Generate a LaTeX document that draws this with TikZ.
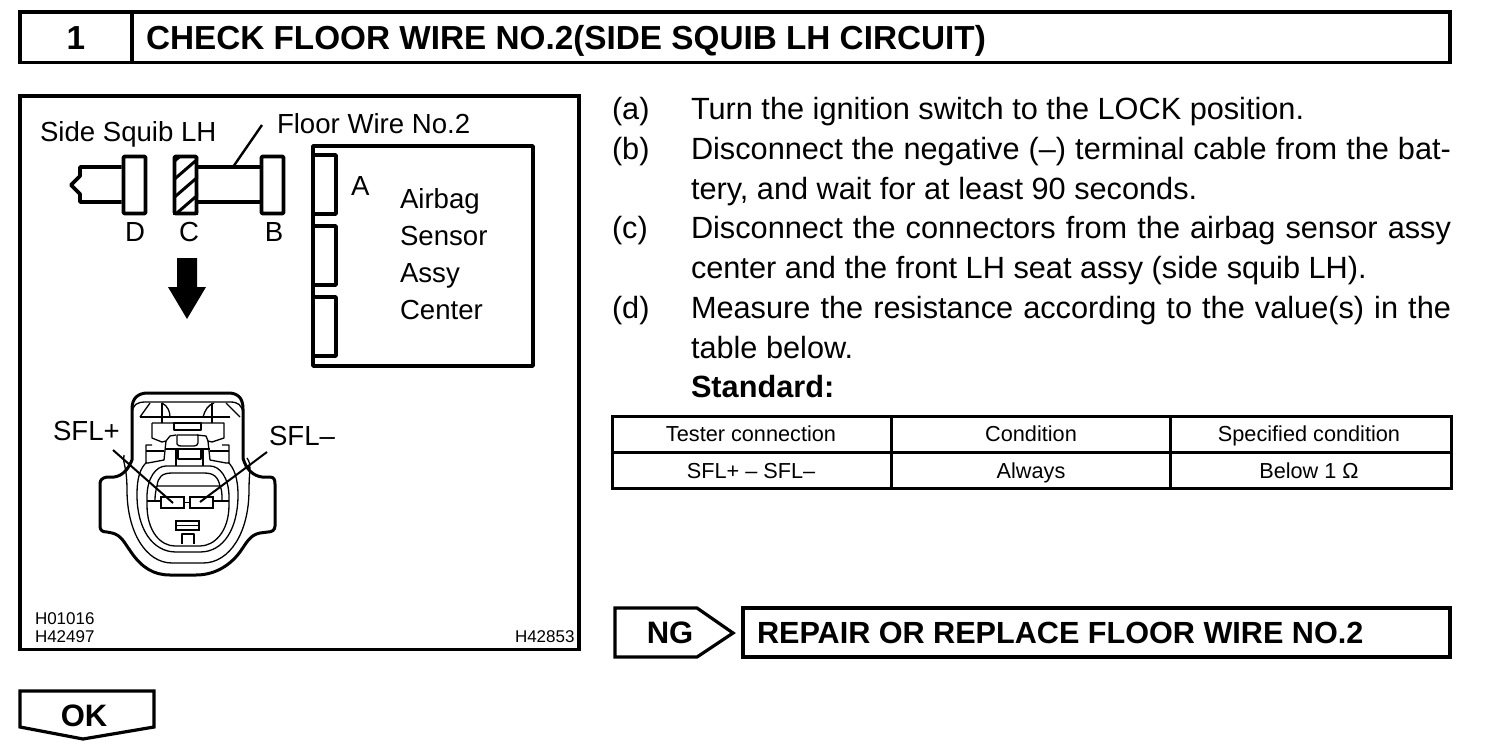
\documentclass[tikz,border=0pt]{standalone}
\usepackage{fontspec}
\setmainfont{Liberation Sans}
\newcommand{\fsz}[1]{\fontsize{#1}{#1}\selectfont}
\tikzset{
  txt/.style={anchor=base west,inner sep=0pt,outer sep=0pt},
  bodytxt/.style={txt,font=\fsz{30.7}},
  fig/.style={txt,font=\fsz{27.6}},
  figc/.style={anchor=base,inner sep=0pt,outer sep=0pt,font=\fsz{27.6}},
  tab/.style={anchor=base,inner sep=0pt,outer sep=0pt,font=\fsz{21.7}},
  code/.style={txt,font=\fsz{17}},
  head/.style={txt,font=\fsz{30.6}\bfseries},
  title/.style={txt,font=\fsz{33.3}\bfseries},
  headc/.style={anchor=base,inner sep=0pt,outer sep=0pt,font=\fsz{31}\bfseries},
  frame/.style={draw=black,line width=3.2pt,miter limit=10},
  thick line/.style={draw=black,line width=3.8pt,line join=round},
  lead/.style={draw=black,line width=2.4pt},
  thin line/.style={draw=black,line width=1.3pt,line join=round},
  term/.style={draw=black,line width=1.7pt},
  plug/.style={thick line,rounded corners=1pt,rectangle,inner sep=0pt,minimum width=22pt,minimum height=57pt},
}
\begin{document}
\begin{tikzpicture}[x=1pt,y=-1pt]
\useasboundingbox (0,0) rectangle (1504,752);
% header
\draw[frame] (20,12) rectangle (1450,62.5);
\draw[frame] (132,12) -- (132,62.5);
\node[headc,font=\fsz{33.3}\bfseries] (hnum) at (76,49) {1};
\node[title] (htitle) at (146,49) {CHECK FLOOR WIRE NO.2(SIDE SQUIB LH CIRCUIT)};
% left panel
\draw[frame] (20,96) rectangle (579,649.5);
\node[fig] (lsq) at (40,141) {Side Squib LH};
\node[fig] (lfw) at (277,133) {Floor Wire No.2};
% plugs
\node[plug] (boxD) at (134.5,185) {};
\node[plug] (boxC) at (185.5,185) {};
\node[plug] (boxB) at (272.5,185) {};
\begin{scope}
\clip (173,156) rectangle (198,214);
\foreach \yy in {165,183,201,219,237}
  \draw[black,line width=3pt] (170,\yy) -- (200,\yy-26);
\end{scope}
\coordinate (wtop) at (233,167);
\coordinate (wleadend) at (262,125);
\draw[thick line] ([yshift=18pt]boxC.east) -- ([yshift=18pt]boxB.west);
\draw[thick line] ([yshift=-17pt]boxC.east) -- ([yshift=-17pt]boxB.west);
\coordinate (tip) at (71,185);
\draw[thick line] ([yshift=18pt]boxD.west) -- (80,167) -- (80,176) -- (tip) -- (80,194) -- (80,202) -- ([yshift=-17pt]boxD.west);
\draw[lead] (wtop) -- (wleadend);
\node[figc] (lD) at (135,241) {D};
\node[figc] (lC) at (189,241) {C};
\node[figc] (lB) at (274,241) {B};
% down arrow
\fill[black] (177,258) -- (197,258) -- (197,287) -- (206,287) -- (187,319) -- (168,287) -- (177,287) -- cycle;
% ECU
\draw[thick line] (313,146) -- (533,146) -- (533,366) -- (313,366) -- cycle;
\draw[thick line] (313,155) -- (336,155) -- (336,214) -- (313,214);
\draw[thick line] (313,226) -- (336,226) -- (336,285) -- (313,285);
\draw[thick line] (313,297) -- (336,297) -- (336,356) -- (313,356);
\node[fig] (lA) at (351,195) {A};
\node[fig] (l1) at (400,208) {Airbag};
\node[fig] (l2) at (400,245) {Sensor};
\node[fig] (l3) at (400,282) {Assy};
\node[fig] (l4) at (400,319) {Center};
% connector outer
\draw[thick line,line width=3pt] (132,460) -- (132,409) .. controls (132,398) and (138,393) .. (148,393)
  -- (228,393) .. controls (238,393) and (243,398) .. (243,409) -- (243,458)
  .. controls (246,470) and (254,476) .. (262,477) -- (270,477) .. controls (274,477) and (275,480) .. (275,484)
  -- (275,526) .. controls (275,530) and (272,532) .. (268,532) -- (260,533)
  .. controls (250,535) and (247,542) .. (240,552) .. controls (228,568) and (212,575) .. (196,575)
  -- (170,575) .. controls (154,575) and (142,568) .. (131,552) .. controls (124,542) and (121,535) .. (112,533)
  -- (107,532) .. controls (102,532) and (100,530) .. (100,526) -- (100,484) .. controls (100,480) and (102,478) .. (107,477)
  -- (114,477) .. controls (122,476) and (128,470) .. (132,460);
% inner top contour
\draw[thin line] (132,413) .. controls (133,405) and (136,402) .. (146,402) -- (230,402) .. controls (238,402) and (242,405) .. (243,413);
\draw[thin line] (140,417) -- (150,403);
\draw[thin line] (240,417) -- (226,403);
\draw[thin line] (162,403) .. controls (168,406) and (170,412) .. (170,417);
\draw[thin line] (203,417) .. controls (205,410) and (208,405) .. (214,403);
\draw[thin line] (140,417) -- (230,417);
\draw[thin line] (162,403) -- (162,423);
\draw[thin line] (212,403) -- (212,423);
% body
\draw[thin line] (152,423) -- (224,423) -- (224,438) -- (212,442) -- (208,441) -- (206,436) -- (197,435);
\draw[thin line] (152,423) -- (152,438) -- (162,442) -- (166,441) -- (170,436) -- (176,435);
\draw[thin line] (174,423) rectangle (201,430);
% centre latch
\draw[thin line] (177,435) -- (177,444) .. controls (177,446) and (180,446) .. (182,446) -- (194,446) .. controls (196,446) and (198,445) .. (198,443) -- (198,435) -- cycle;
\draw[thin line] (165,449) -- (210,449);
\draw[thin line] (176,449) -- (176,466);
\draw[thin line] (203,449) -- (203,466);
\draw[thin line] (178,449) -- (178,459) -- (201,459) -- (201,449);
% side wings
\draw[thin line] (166,441) -- (164,460) -- (148,463) -- (146,463) -- (146,445) -- (152,445);
\draw[thin line] (146,451) -- (164,451);
\draw[thin line] (208,441) -- (210,460) -- (226,463) -- (229,463) -- (229,445) -- (222,445);
\draw[thin line] (210,451) -- (229,451);
% rings
\draw[thin line] (124,455) .. controls (122,462) and (127,465) .. (127,490) .. controls (127,532) and (146,563) .. (172,563) -- (203,563) .. controls (230,563) and (249,532) .. (249,490) .. controls (249,470) and (252,465) .. (247,458);
\draw[thin line] (147,462) .. controls (140,468) and (137,478) .. (137,495) .. controls (137,528) and (152,552) .. (176,552) -- (200,552) .. controls (224,552) and (238,528) .. (238,495) .. controls (238,478) and (234,468) .. (228,462);
% inner cavity
\draw[thin line] (166,466) -- (210,466) .. controls (220,466) and (229,478) .. (229,497) -- (229,505) .. controls (229,532) and (214,546) .. (200,546) -- (175,546) .. controls (161,546) and (147,532) .. (147,505) -- (147,497) .. controls (147,478) and (156,466) .. (166,466);
\draw[thin line] (157,486) .. controls (158,477) and (162,473) .. (172,473) -- (204,473) .. controls (214,473) and (218,477) .. (220,486) -- cycle;
\draw[thin line] (147,501) -- (161,501);
\draw[thin line] (155,500) .. controls (155,494) and (156,490) .. (157,486);
\draw[thin line] (220,486) .. controls (222,490) and (222,494) .. (222,500);
\draw[thin line] (213,501) -- (229,501);
% terminals
\node[term,rectangle,minimum width=23pt,minimum height=11pt,inner sep=0pt] (tplus) at (172.5,502.5) {};
\node[term,rectangle,minimum width=23pt,minimum height=11pt,inner sep=0pt] (tminus) at (201.5,502.5) {};
\draw[thin line] (tplus.east) -- (tminus.west);
\draw[term] (176,521) rectangle (199,530);
\draw[thin line] (176,525.5) -- (199,525.5);
\draw[thin line] (182,544) -- (182,534) -- (194,534) -- (194,544);
\node[fig] (lplus) at (53,440) {SFL+};
\node[fig] (lminus) at (269,445) {SFL–};
\coordinate (pl) at (113,450);
\coordinate (mi) at (267,452);
\coordinate (pe) at (173,503);
\coordinate (me) at (200,502);
\draw[lead,line width=2pt] (pl) -- (pe);
\draw[lead,line width=2pt] (mi) -- (me);
\node[code] (c1) at (35,624.5) {H01016};
\node[code] (c2) at (35,642) {H42497};
\node[code] (c3) at (515,642) {H42853};
% body text
\node[bodytxt] (a0) at (612,119) {(a)};
\node[bodytxt] (a1) at (691,119) {Turn the ignition switch to the LOCK position.};
\node[bodytxt] (b0) at (612,159) {(b)};
\node[bodytxt] (b1) at (691,159) {\makebox[760pt][s]{Disconnect the negative (–) terminal cable from the bat-}};
\node[bodytxt] (b2) at (691,199) {tery, and wait for at least 90 seconds.};
\node[bodytxt] (c0) at (612,238) {(c)};
\node[bodytxt] (c1b) at (691,238) {\makebox[760pt][s]{Disconnect the connectors from the airbag sensor assy}};
\node[bodytxt] (c2b) at (691,278) {center and the front LH seat assy (side squib LH).};
\node[bodytxt] (d0) at (612,318) {(d)};
\node[bodytxt] (d1) at (691,318) {\makebox[760pt][s]{Measure the resistance according to the value(s) in the}};
\node[bodytxt] (d2) at (691,358) {table below.};
\node[bodytxt,font=\fsz{30.7}\bfseries] (std) at (691,397) {Standard:};
% table
\draw[frame,line width=3pt] (612,416) rectangle (1451,488);
\draw[frame,line width=3pt] (612,452) -- (1451,452);
\draw[frame,line width=3pt] (891,416) -- (891,488);
\draw[frame,line width=3pt] (1170,416) -- (1170,488);
\node[tab] (t11) at (751,441) {Tester connection};
\node[tab] (t12) at (1031,441) {Condition};
\node[tab] (t13) at (1309,441) {Specified condition};
\node[tab] (t21) at (751,478) {SFL+ – SFL–};
\node[tab] (t22) at (1031,478) {Always};
\node[tab] (t23) at (1309,478) {Below 1 Ω};
% NG
\draw[frame,line join=miter] (615,608) -- (697,608) -- (733,633) -- (697,657) -- (615,657) -- cycle;
\node[headc] (ng) at (670,643) {NG};
\draw[frame] (743,608) rectangle (1450,657);
\node[head] (rep) at (757,643) {REPAIR OR REPLACE FLOOR WIRE NO.2};
% OK
\draw[frame] (20,691) -- (154,691) -- (154,727) -- (83,739) -- (20,727) -- cycle;
\node[headc] (ok) at (84,726) {OK};
\end{tikzpicture}
\end{document}
